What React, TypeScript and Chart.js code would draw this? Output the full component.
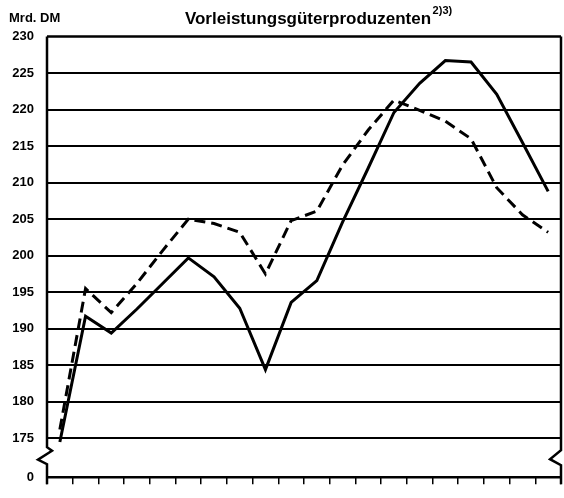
import React, { useEffect, useRef } from 'react';
import { Chart, registerables } from 'chart.js';

Chart.register(...registerables);

// ---- data ----
const periods = ['1', '2', '3', '4', '5', '6', '7', '8', '9', '10', '11', '12', '13', '14', '15', '16', '17', '18', '19', '20'];
const solidSeries = [174.5, 191.7, 189.4, 192.7, 196.2, 199.7, 197.1, 192.8, 184.4, 193.6, 196.6, 204.6, 212.0, 219.6, 223.6, 226.7, 226.5, 222.1, 215.5, 208.8];
const dashedSeries = [176.2, 195.5, 192.2, 196.2, 200.7, 205.0, 204.4, 203.2, 197.5, 204.8, 206.1, 212.4, 217.2, 221.3, 219.9, 218.4, 216.0, 209.3, 205.6, 203.2];
const yTickValues = [175, 180, 185, 190, 195, 200, 205, 210, 215, 220, 225, 230];
const yBreakValue = 169.68; // position of the "0" line below the axis break
const yBreakLabel = '0';
const yMax = 230;
const unitLabel = 'Mrd. DM';
const titleText = 'Vorleistungsgüterproduzenten';
const titleSup = '2)3)';

const FONT = "'Liberation Sans', Arial, sans-serif";

const framePlugin = {
  id: 'frameAndTitle',
  afterDraw(chart: any) {
    const { ctx, chartArea } = chart;
    const { left, right, top, bottom } = chartArea;
    ctx.save();
    ctx.strokeStyle = '#000';
    ctx.lineWidth = 2.5;
    ctx.lineJoin = 'miter';
    ctx.beginPath();
    ctx.moveTo(left, top);
    ctx.lineTo(right, top);
    ctx.moveTo(left, bottom);
    ctx.lineTo(right, bottom);
    // left axis with break
    ctx.moveTo(left, top);
    ctx.lineTo(left, bottom - 30);
    ctx.lineTo(left + 5, bottom - 26.5);
    ctx.lineTo(left - 9, bottom - 17.5);
    ctx.lineTo(left, bottom - 13);
    ctx.lineTo(left, bottom + 7);
    // right axis with break
    ctx.moveTo(right, top);
    ctx.lineTo(right, bottom - 27);
    ctx.lineTo(right - 11, bottom - 18);
    ctx.lineTo(right, bottom - 12);
    ctx.lineTo(right, bottom + 7);
    ctx.stroke();

    // title
    ctx.fillStyle = '#000';
    ctx.textBaseline = 'alphabetic';
    ctx.textAlign = 'left';
    ctx.font = `bold 17px ${FONT}`;
    const w = ctx.measureText(titleText).width;
    const cx = 308;
    const tx = cx - w / 2;
    ctx.fillText(titleText, tx, 23.5);
    ctx.font = `bold 11px ${FONT}`;
    ctx.fillText(titleSup, tx + w + 1.5, 14);

    ctx.font = `bold 13px ${FONT}`;
    ctx.fillText(unitLabel, 9, 22);
    ctx.restore();
  },
};

export default function App() {
  const canvasRef = useRef<HTMLCanvasElement | null>(null);

  useEffect(() => {
    if (!canvasRef.current) return;
    const chart = new Chart(canvasRef.current, {
      type: 'line',
      data: {
        labels: periods,
        datasets: [
          {
            label: 'solid',
            data: solidSeries,
            borderColor: '#000',
            borderWidth: 3,
            pointRadius: 0,
            tension: 0,
            fill: false,
            borderJoinStyle: 'miter',
          },
          {
            label: 'dashed',
            data: dashedSeries,
            borderColor: '#000',
            borderWidth: 3,
            borderDash: [11, 6],
            pointRadius: 0,
            tension: 0,
            fill: false,
            borderJoinStyle: 'miter',
          },
        ],
      },
      options: {
        responsive: false,
        animation: false,
        events: [],
        layout: { padding: { top: 36.5, right: 3, left: 0, bottom: 0 } },
        plugins: {
          legend: { display: false },
          tooltip: { enabled: false },
          title: { display: false },
        },
        scales: {
          x: {
            type: 'category',
            offset: true,
            grid: {
              offset: true,
              drawOnChartArea: false,
              drawTicks: true,
              tickLength: 7,
              color: '#000',
              lineWidth: 1.5,
            },
            border: { display: false },
            ticks: { display: false },
            afterFit: (scale: any) => {
              scale.height = 8;
            },
          },
          y: {
            type: 'linear',
            min: yBreakValue,
            max: yMax,
            afterBuildTicks: (scale: any) => {
              scale.ticks = [yBreakValue, ...yTickValues].map((v) => ({ value: v }));
            },
            afterFit: (scale: any) => {
              scale.width = 47;
            },
            grid: {
              drawTicks: false,
              lineWidth: 2,
              color: (ctx: any) => {
                const v = ctx.tick ? ctx.tick.value : 0;
                return v >= 175 && v <= 225 ? '#000' : 'rgba(0,0,0,0)';
              },
            },
            border: { display: false },
            ticks: {
              autoSkip: false,
              padding: 13,
              color: '#000',
              font: { family: FONT, size: 13, weight: 'bold' },
              callback: (value: any) => (value < 175 ? yBreakLabel : String(value)),
            },
          },
        },
      },
      plugins: [framePlugin],
    } as any);
    return () => chart.destroy();
  }, []);

  return (
    <div style={{ position: 'fixed', left: 0, top: 0, width: 564, height: 498, background: '#fff' }}>
      <canvas ref={canvasRef} width={564} height={498} style={{ display: 'block' }} />
    </div>
  );
}
